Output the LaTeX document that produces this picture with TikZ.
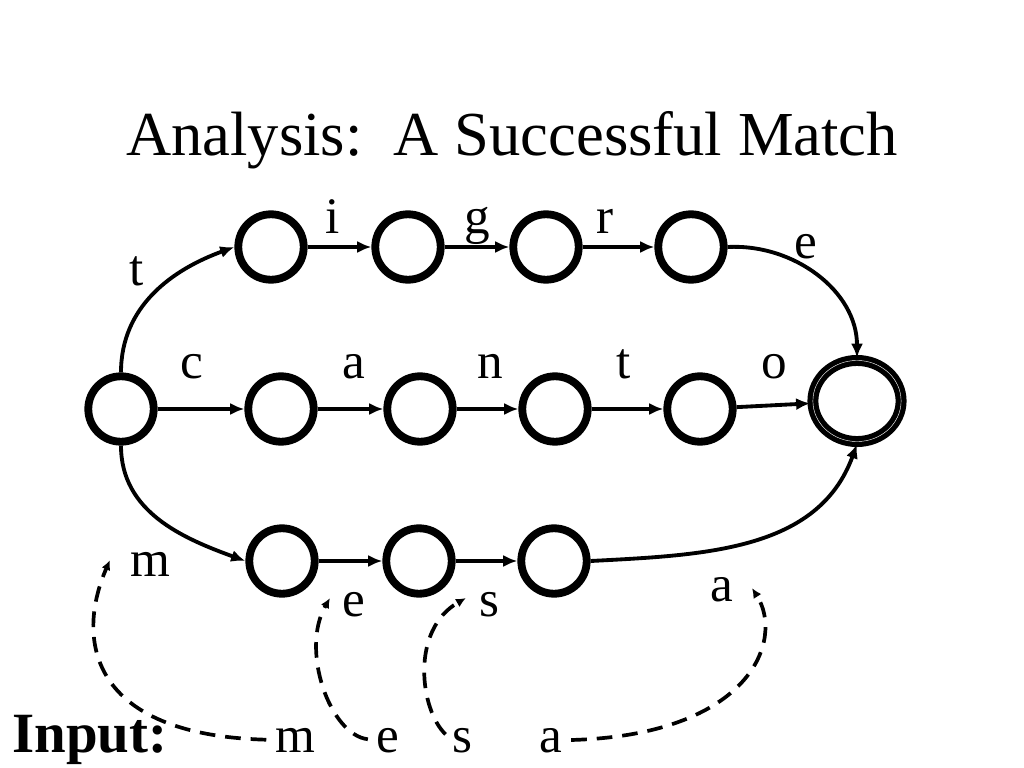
\documentclass[tikz,border=0pt]{standalone}
\usepackage{fontspec}
\setmainfont{Liberation Serif}
\usepackage{tikz}
\usetikzlibrary{arrows.meta}
\usetikzlibrary{shapes.geometric}
\tikzset{
	state/.style={circle,draw,line width=5.5pt,minimum size=46pt,inner sep=0pt},
	accept/.style={ellipse,draw,line width=3.7pt,double,double distance=0.3pt,minimum width=62pt,minimum height=57pt,inner sep=0pt},
	trans/.style={line width=2.7pt,-{Latex[length=10pt,width=8.5pt]}},
	inarrow/.style={line width=2.6pt,dash pattern=on 11pt off 7pt,shorten <=6pt,-{Latex[length=7pt,width=6.5pt]}},
	lbl/.style={anchor=base,inner sep=0pt,font=\fontsize{36}{40}\selectfont}
}
\begin{document}
\begin{tikzpicture}[x=0.703pt,y=-0.703pt]
	\useasboundingbox (0,0) rectangle (1024,768);
	\node[anchor=base,font=\fontsize{44}{50}\selectfont] (title) at (512,155) {Analysis:\ \ A Successful Match};
	% states
	\node[state] (s0) at (121,409) {};
	\node[state] (t1) at (271,247) {};
	\node[state] (t2) at (408,247) {};
	\node[state] (t3) at (546,247) {};
	\node[state] (t4) at (691,247) {};
	\node[state] (c1) at (281,409) {};
	\node[state] (c2) at (420,409) {};
	\node[state] (c3) at (555,409) {};
	\node[state] (c4) at (700,409) {};
	\node[state] (m1) at (282,561) {};
	\node[state] (m2) at (419,561) {};
	\node[state] (m3) at (554,561) {};
	\node[accept] (fin) at (857,401) {};
	% transitions
	\draw[trans] (s0.north) to[out=90,in=200] (t1.west);
	\draw[trans] (t1) -- (t2);
	\draw[trans] (t2) -- (t3);
	\draw[trans] (t3) -- (t4);
	\draw[trans] (t4.east) to[out=3,in=90] (fin.north);
	\draw[trans] (s0) -- (c1);
	\draw[trans] (c1) -- (c2);
	\draw[trans] (c2) -- (c3);
	\draw[trans] (c3) -- (c4);
	\draw[trans] (c4) -- (fin);
	\draw[trans] (s0.south) to[out=-90,in=160] (m1.west);
	\draw[trans] (m1) -- (m2);
	\draw[trans] (m2) -- (m3);
	\draw[trans] (m3.east) to[out=3,in=-110] (fin.south);
	% labels
	\node[lbl] (lt) at (137,285) {t};
	\node[lbl] (li) at (333,233) {i};
	\node[lbl] (lg) at (477,233) {g};
	\node[lbl] (lr) at (605,233) {r};
	\node[lbl] (le) at (806,258) {e};
	\node[lbl] (lc) at (192,378) {c};
	\node[lbl] (la) at (354,378) {a};
	\node[lbl] (ln) at (490,378) {n};
	\node[lbl] (lt2) at (624,378) {t};
	\node[lbl] (lo) at (774,378) {o};
	\node[lbl] (lm) at (150,576) {m};
	\node[lbl] (le2) at (354,616) {e};
	\node[lbl] (ls) at (489,616) {s};
	\node[lbl] (la2) at (722,601) {a};
	% input
	\node[lbl,anchor=base west,font=\bfseries\fontsize{40}{44}\selectfont] (input) at (12,752) {Input:};
	\node[lbl] (im) at (295,752) {m};
	\node[lbl] (ie) at (388,752) {e};
	\node[lbl] (is) at (462,752) {s};
	\node[lbl] (ia) at (551,752) {a};
	\coordinate (em) at (110,560);
	\coordinate (ee) at (330,598);
	\coordinate (es) at (466,598);
	\coordinate (ea) at (752,588);
	\draw[inarrow] (im.west) .. controls (90,735) and (75,640) .. (em);
	\draw[inarrow] (ie.west) .. controls (330,735) and (300,650) .. (ee);
	\draw[inarrow] (is.west) .. controls (420,710) and (410,630) .. (es);
	\draw[inarrow] (ia.east) .. controls (750,735) and (785,640) .. (ea);
\end{tikzpicture}
\end{document}
